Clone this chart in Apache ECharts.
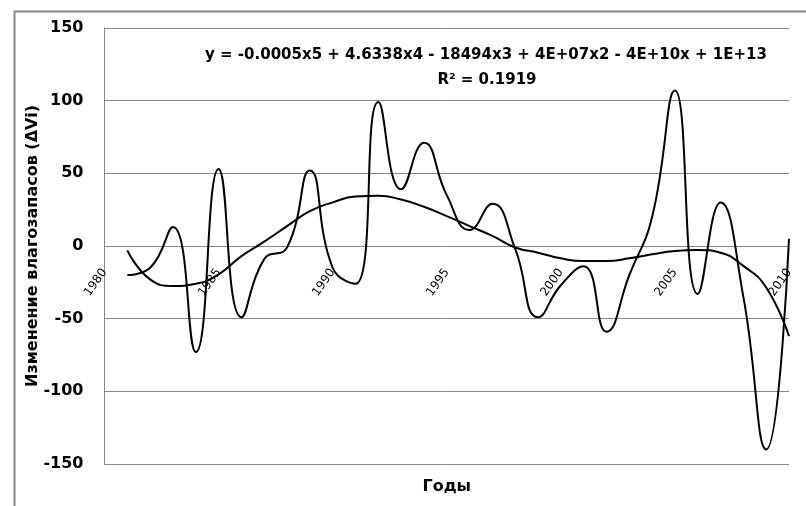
<!DOCTYPE html>
<html>
<head>
<meta charset="utf-8">
<script src="https://cdn.jsdelivr.net/npm/echarts@6/dist/echarts.min.js"></script>
<style>html,body{margin:0;padding:0;background:#fff}#c{width:806px;height:506px}</style>
</head>
<body>
<div id="c"></div>
<script>
const years = [1981,1982,1983,1984,1985,1986,1987,1988,1989,1990,1991,1992,1993,1994,1995,1996,1997,1998,1999,2000,2001,2002,2003,2004,2005,2006,2007,2008,2009,2010];
const deltaVi = [-20,-15,13,-73,53,-49,-9,-1,52,-15,-26,99,39,71,35,11,29,-2,-49,-27,-14,-59,-20,20,107,-33,30,-35,-140,5];
const trendVals = [-3,-23,-27.5,-26,-19.5,-7,3,13.7,24,30,34,34.5,32,27,20.6,13.7,7,-1,-4.6,-8.5,-10.3,-10.3,-8.5,-5.7,-3.4,-2.7,-4.6,-13.7,-28.6,-62];
const yTicks = [-150,-100,-50,0,50,100,150];
const xTicks = [1980,1985,1990,1995,2000,2005,2010];
const equationText = 'y = -0.0005x5 + 4.6338x4 - 18494x3 + 4E+07x2 - 4E+10x + 1E+13';
const r2Text = 'R² = 0.1919';
const yAxisTitle = 'Изменение влагозапасов (ΔVi)';
const xAxisTitle = 'Годы';

const FONT = 'DejaVu Sans';
const chart = echarts.init(document.getElementById('c'), null, {renderer: 'canvas'});
chart.setOption({
  animation: false,
  backgroundColor: '#fff',
  textStyle: {fontFamily: FONT},
  grid: {left: 104.5, right: 17, top: 28, bottom: 42, containLabel: false, outerBoundsMode: 'none'},
  xAxis: {
    type: 'value', min: xTicks[0], max: xTicks[xTicks.length-1], interval: 5,
    position: 'bottom', offset: -218,
    axisLine: {show: false, onZero: false},
    axisTick: {show: false},
    splitLine: {show: false},
    axisLabel: {rotate: 55, margin: 24, fontSize: 12, color: '#000', fontFamily: FONT,
                formatter: v => String(v)},
    name: xAxisTitle, nameLocation: 'middle', nameGap: 233, nameMoveOverlap: false,
    nameTextStyle: {fontSize: 16, fontWeight: 'bold', color: '#000', fontFamily: FONT}
  },
  yAxis: {
    type: 'value', min: yTicks[0], max: yTicks[yTicks.length-1], interval: 50,
    axisLine: {show: true, onZero: false, lineStyle: {color: '#878787', width: 1}},
    axisTick: {show: false},
    splitLine: {show: true, lineStyle: {color: '#878787', width: 1}},
    axisLabel: {margin: 21, fontSize: 16, fontWeight: 'bold', color: '#000', fontFamily: FONT},
    name: yAxisTitle, nameLocation: 'middle', nameGap: 64, nameRotate: 90, nameMoveOverlap: false,
    nameTextStyle: {fontSize: 16, fontWeight: 'bold', color: '#000', fontFamily: FONT}
  },
  graphic: [
    {type: 'rect', left: 12, top: 9, shape: {x: 0, y: 0, width: 830, height: 530},
     style: {fill: 'none', stroke: '#878787', lineWidth: 2}, silent: true},
    {type: 'text', x: 486, y: 55, style: {text: equationText, fontFamily: FONT, fontSize: 15, fontWeight: 'bold', fill: '#000', textAlign: 'center', textVerticalAlign: 'middle'}},
    {type: 'text', x: 487, y: 80, style: {text: r2Text, fontFamily: FONT, fontSize: 15, fontWeight: 'bold', fill: '#000', textAlign: 'center', textVerticalAlign: 'middle'}}
  ],
  series: [
    {type: 'line', data: years.map((y,i)=>[y, deltaVi[i]]), smooth: 0.5, symbol: 'none',
     lineStyle: {color: '#000', width: 2}},
    {type: 'line', data: years.map((y,i)=>[y, trendVals[i]]), smooth: 0.5, symbol: 'none',
     lineStyle: {color: '#000', width: 2}}
  ]
});
</script>
</body>
</html>
